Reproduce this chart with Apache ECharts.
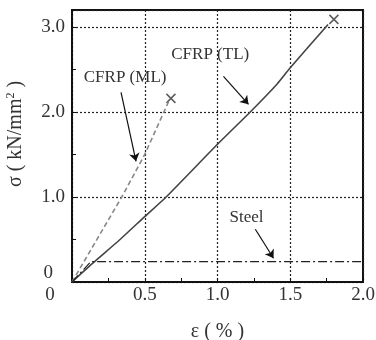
<!DOCTYPE html>
<html>
<head>
<meta charset="utf-8">
<script src="https://cdn.jsdelivr.net/npm/echarts@6/dist/echarts.min.js"></script>
<style>
  html, body { margin: 0; padding: 0; background: #fff; }
  #main { width: 376px; height: 340px; }
</style>
</head>
<body>
<div id="main"></div>
<script>
// strain (%) / stress (kN/mm2)
var tlCurve = [[0, 0], [0.135, 0.21], [0.33, 0.5], [0.5, 0.77], [0.647, 1.0], [1.0, 1.62],
  [1.225, 2.0], [1.41, 2.33], [1.5, 2.52], [1.76, 3.03]];
var mlCurve = [[0, 0], [0.342, 1.0], [0.5, 1.5], [0.663, 2.12]];
var steelCurve = [[0, 0], [0.13, 0.24], [2.0, 0.24]];
var breakPoints = [[1.8, 3.09], [0.68, 2.16]];

var xTicks = [0, 0.5, 1.0, 1.5, 2.0];
var yTicks = [0, 1.0, 2.0, 3.0];

// annotations: label text, label position, arrow start, arrow end
var notes = [
  { text: 'CFRP (TL)', at: [0.95, 2.68], from: [1.041, 2.42], to: [1.213, 2.09] },
  { text: 'CFRP (ML)', at: [0.365, 2.40], from: [0.337, 2.23], to: [0.44, 1.42] },
  { text: 'Steel', at: [1.2, 0.76], from: [1.26, 0.62], to: [1.385, 0.28] }
];

var serif = '"Liberation Serif", "DejaVu Serif", serif';
var myChart = echarts.init(document.getElementById('main'));

var gridLine = { show: true, lineStyle: { color: '#222', type: [2, 2], width: 1.2 } };

var option = {
  backgroundColor: '#fff',
  animation: false,
  grid: {
    left: 72, right: 13, top: 10, bottom: 58,
    containLabel: false, outerBoundsMode: 'none',
    show: true, borderColor: '#111', borderWidth: 2, backgroundColor: 'transparent'
  },
  xAxis: {
    type: 'value', min: 0, max: 2.0, interval: 0.5,
    name: 'ε ( % )', nameLocation: 'middle', nameGap: 40,
    nameTextStyle: { fontFamily: serif, fontSize: 20, color: '#333' },
    axisLine: { lineStyle: { color: '#111', width: 2 } },
    axisTick: { inside: true, length: 4, lineStyle: { color: '#111' } },
    minorTick: { show: true, splitNumber: 2, length: 4, lineStyle: { color: '#111' } },
    splitLine: gridLine,
    axisLabel: {
      fontFamily: serif, fontSize: 19, color: '#333', margin: 4,
      formatter: function (v) {
        if (xTicks.indexOf(v) < 0) return '';
        return v === 0 ? '{z|0}' : v.toFixed(1);
      },
      rich: { z: { fontFamily: serif, fontSize: 19, color: '#333', padding: [0, 44, 0, 0] } }
    }
  },
  yAxis: {
    type: 'value', min: 0, max: 3.2, interval: 1.0,
    name: 'σ ( kN/mm{sup|2} )', nameLocation: 'middle', nameGap: 46,
    nameTextStyle: {
      fontFamily: serif, fontSize: 20, color: '#333', padding: [0, 0, 0, 24],
      rich: { sup: { fontFamily: serif, fontSize: 12, color: '#333', verticalAlign: 'top', padding: [0, 0, 9, 0] } }
    },
    axisLine: { lineStyle: { color: '#111', width: 2 } },
    axisTick: { inside: true, length: 4, lineStyle: { color: '#111' } },
    minorTick: { show: true, splitNumber: 2, length: 4, lineStyle: { color: '#111' } },
    splitLine: gridLine,
    axisLabel: {
      fontFamily: serif, fontSize: 19, color: '#333', margin: 7,
      formatter: function (v) {
        if (yTicks.indexOf(v) < 0) return '';
        return v === 0 ? '{z|0}' : v.toFixed(1);
      },
      rich: { z: { fontFamily: serif, fontSize: 19, color: '#333', padding: [0, 12, 18, 0] } }
    }
  },
  series: [
    {
      name: 'CFRP (TL)', type: 'line', data: tlCurve, smooth: 0.2, showSymbol: false,
      lineStyle: { color: '#444', width: 1.6 },
      markLine: {
        silent: true, symbol: ['none', 'arrow'], symbolSize: 8,
        lineStyle: { color: '#111', width: 1.2, type: 'solid' },
        label: { show: false },
        data: notes.map(function (n) { return [{ coord: n.from }, { coord: n.to }]; })
      },
      markPoint: {
        silent: true, symbol: 'circle', symbolSize: 0,
        label: { show: true, fontFamily: serif, fontSize: 17, color: '#333', position: 'inside' },
        data: notes.map(function (n) { return { coord: n.at, value: n.text, label: { formatter: n.text } }; })
      }
    },
    {
      name: 'CFRP (ML)', type: 'line', data: mlCurve, showSymbol: false,
      lineStyle: { color: '#888', width: 1.6, type: [5, 3] }
    },
    {
      name: 'Steel', type: 'line', data: steelCurve, showSymbol: false,
      lineStyle: { color: '#222', width: 1.2, type: [9, 3, 2, 3] }
    },
    {
      name: 'break', type: 'scatter', data: breakPoints,
      symbol: 'path://M0,0L10,10M10,0L0,10', symbolSize: 9,
      itemStyle: { color: 'transparent', borderColor: '#333', borderWidth: 1.5 }
    }
  ]
};

myChart.setOption(option);
</script>
</body>
</html>
